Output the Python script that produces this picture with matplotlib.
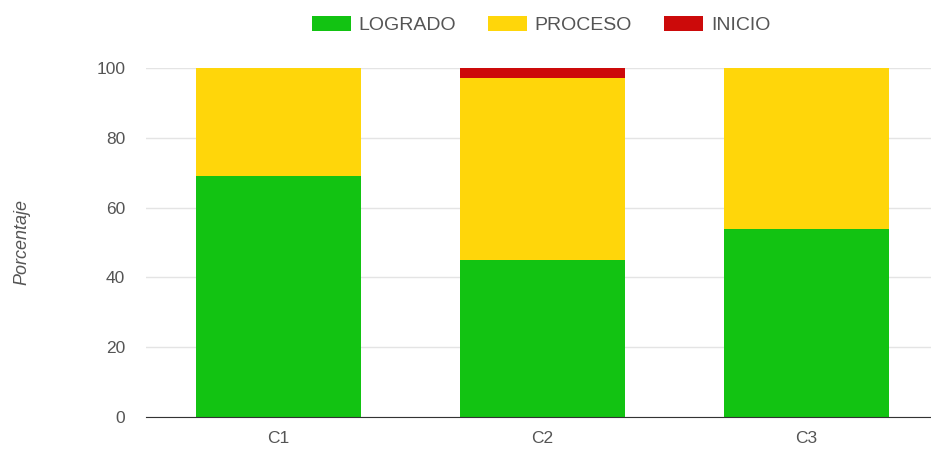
import matplotlib
matplotlib.use("Agg")
import matplotlib.pyplot as plt
from matplotlib.patches import Patch

categories = ["C1", "C2", "C3"]
logrado = [69, 45, 54]
proceso = [31, 52, 46]
inicio = [0, 3, 0]
series_names = ["LOGRADO", "PROCESO", "INICIO"]
colors = ["#12c312", "#ffd60a", "#cc0a0a"]
yticks = [0, 20, 40, 60, 80, 100]

plt.rcParams['font.family'] = ['Arimo', 'Liberation Sans', 'DejaVu Sans']

fig = plt.figure(figsize=(9.31, 4.5), dpi=100)
ax = fig.add_axes([146/931, (450-417)/450, (938-146)/931, (417-68)/450])

x = list(range(len(categories)))
w = 0.625
ax.bar(x, logrado, width=w, color=colors[0], zorder=3)
ax.bar(x, proceso, width=w, bottom=logrado, color=colors[1], zorder=3)
bot2 = [a + b for a, b in zip(logrado, proceso)]
ax.bar(x, inicio, width=w, bottom=bot2, color=colors[2], zorder=3)

ax.set_xlim(-0.5, 2.5)
ax.set_ylim(0, 100)
ax.set_yticks(yticks)
ax.set_yticklabels([str(t) for t in yticks])
ax.set_xticks(x)
ax.set_xticklabels(categories)
ax.grid(axis='y', color='#e4e4e4', linewidth=1, zorder=0)
for s in ["top", "right", "left"]:
    ax.spines[s].set_visible(False)
ax.spines["bottom"].set_color("#333333")
ax.spines["bottom"].set_zorder(4)
ax.tick_params(axis='both', length=0, colors='#555555', labelsize=12.5)
ax.tick_params(axis='y', pad=15)
ax.tick_params(axis='x', pad=10)

fig.text(22/931, 1 - 242/450, "Porcentaje", rotation=90, style='italic',
         fontsize=13, color='#555555', ha='center', va='center')

handles = [Patch(facecolor=c, edgecolor='none') for c in colors]
fig.legend(handles, series_names, loc='center', bbox_to_anchor=(541/931, 1 - 25/450),
           ncol=3, frameon=False, fontsize=14, handlelength=2.0, handleheight=0.82,
           columnspacing=1.65, handletextpad=0.4, labelcolor='#555555')

fig.savefig("out.png", dpi=100)
